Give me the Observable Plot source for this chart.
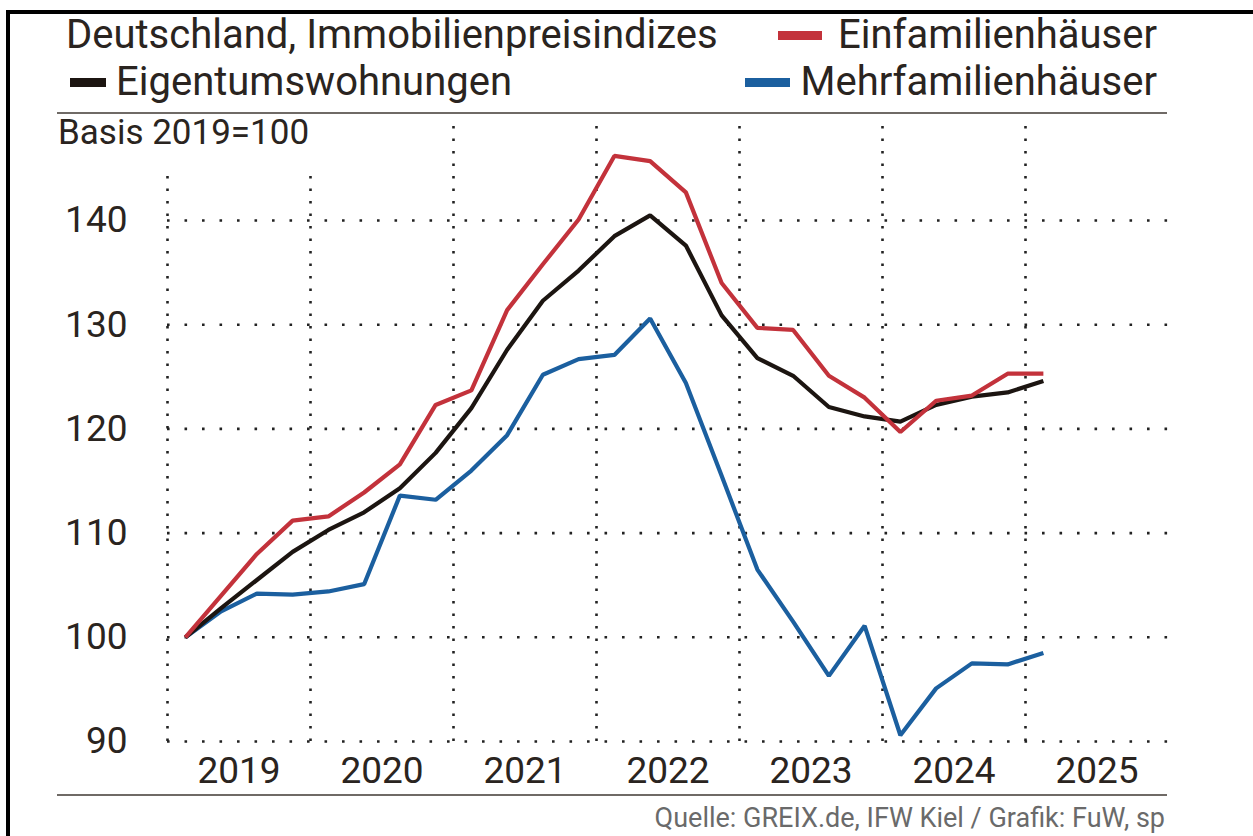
<!DOCTYPE html>
<html>
<head>
<meta charset="utf-8">
<script src="https://cdn.jsdelivr.net/npm/d3@7"></script>
<script src="https://cdn.jsdelivr.net/npm/@observablehq/plot@0.6"></script>
<style>
  html, body { margin: 0; padding: 0; background: #fff; }
  #wrap { position: relative; width: 1253px; height: 836px; background: #fff; overflow: hidden; font-family: Roboto, "Noto Sans", sans-serif; color: #2a2420; }
  .abs { position: absolute; white-space: nowrap; }
  .big { font-size: 40px; line-height: 44px; }
  .sw { position: absolute; height: 9px; }
  #chart { position: absolute; left: 0; top: 100px; }
</style>
</head>
<body>
<div id="wrap">
  <div class="abs" style="left:6px;top:10px;width:1247px;height:4px;background:#000"></div>
  <div class="abs" style="left:6px;top:10px;width:4px;height:826px;background:#000"></div>

  <div class="abs big" id="title" style="left:66px;top:13px">Deutschland, Immobilienpreisindizes</div>

  <div class="sw" id="sw0" style="left:778px;top:31px;width:44px"></div>
  <div class="abs big" id="lg0" style="right:96px;top:13px"></div>
  <div class="sw" id="sw1" style="left:70px;top:78px;width:36px"></div>
  <div class="abs big" id="lg1" style="left:116px;top:60px"></div>
  <div class="sw" id="sw2" style="left:745px;top:78px;width:45px"></div>
  <div class="abs big" id="lg2" style="right:96px;top:60px"></div>

  <div class="abs" style="left:57px;top:112px;width:1110px;height:2px;background:#6f6a66"></div>
  <div class="abs" style="left:58px;top:113px;font-size:35px;line-height:40px">Basis 2019=100</div>

  <div id="chart"></div>

  <div class="abs" style="left:57px;top:794px;width:1110px;height:2px;background:#6f6a66"></div>
  <div class="abs" style="right:88px;top:802px;font-size:27px;line-height:32px;color:#6a6a6a">Quelle: GREIX.de, IFW Kiel / Grafik: FuW, sp</div>
</div>
<script>
// ---- data ----
const quarters = [
  "2019 Q1","2019 Q2","2019 Q3","2019 Q4",
  "2020 Q1","2020 Q2","2020 Q3","2020 Q4",
  "2021 Q1","2021 Q2","2021 Q3","2021 Q4",
  "2022 Q1","2022 Q2","2022 Q3","2022 Q4",
  "2023 Q1","2023 Q2","2023 Q3","2023 Q4",
  "2024 Q1","2024 Q2","2024 Q3","2024 Q4",
  "2025 Q1"
];
const seriesNames = ["Einfamilienhäuser", "Eigentumswohnungen", "Mehrfamilienhäuser"];
const seriesColors = ["#c3323b", "#1c1511", "#1b5f9f"];
const einfamilien = [100, 104.0, 108.0, 111.2, 111.6, 113.9, 116.6, 122.3, 123.7, 131.4, 135.8, 140.1, 146.2, 145.7, 142.7, 134.0, 129.7, 129.5, 125.1, 123.0, 119.7, 122.7, 123.2, 125.3, 125.3];
const eigentum    = [100, 102.8, 105.5, 108.2, 110.3, 112.0, 114.3, 117.7, 122.0, 127.6, 132.3, 135.2, 138.5, 140.5, 137.6, 130.9, 126.8, 125.1, 122.1, 121.2, 120.7, 122.3, 123.1, 123.5, 124.6];
const mehrfamilien= [100, 102.5, 104.2, 104.1, 104.4, 105.1, 113.6, 113.2, 116.0, 119.4, 125.2, 126.7, 127.1, 130.6, 124.4, 115.5, 106.5, 101.5, 96.3, 101.1, 90.6, 95.1, 97.5, 97.4, 98.5];
const yearLabels = [2019, 2020, 2021, 2022, 2023, 2024, 2025];
const yTicks = [90, 100, 110, 120, 130, 140];
const basisLabelBlockedYears = [2019, 2020]; // grid lines that stop below the "Basis" label

// ---- header legend ----
["lg0","lg1","lg2"].forEach((id, i) => { document.getElementById(id).textContent = seriesNames[i]; });
["sw0","sw1","sw2"].forEach((id, i) => { document.getElementById(id).style.background = seriesColors[i]; });

// ---- build table ----
const qx = q => { const [y, qq] = q.split(" Q"); return +y + (+qq - 0.5) / 4; };
const toRows = vals => quarters.map((q, i) => ({x: qx(q), v: vals[i]}));

const yTop = 149.6;
const gridTopShort = 144.4;
const vgrid = yearLabels.map(y => ({x: y, top: basisLabelBlockedYears.includes(y) ? gridTopShort : yTop}));

const chart = Plot.plot({
  width: 1253,
  height: 700,
  marginTop: 20,
  marginBottom: 59,
  marginLeft: 167,
  marginRight: 85,
  x: {domain: [2019, 2026], axis: null},
  y: {domain: [90, yTop], axis: null},
  style: {fontFamily: "Roboto, sans-serif", color: "#2a2420", background: "transparent"},
  marks: [
    Plot.ruleY(yTicks, {x1: 2019, x2: 2026, stroke: "#222", strokeWidth: 2.6, strokeDasharray: "2.6 14.9", strokeOpacity: 1}),
    Plot.ruleX(vgrid, {x: "x", y1: 90, y2: "top", stroke: "#222", strokeWidth: 2.6, strokeDasharray: "2.6 9.9"}),
    Plot.text(yTicks, {x: 2019, y: d => d, text: d => String(d), textAnchor: "end", dx: -40, fontSize: 37, fill: "#2a2420"}),
    Plot.text(yearLabels, {x: d => d + 0.5, y: 90, text: d => String(d), dy: 30, fontSize: 37, fill: "#2a2420"}),
    Plot.line(toRows(mehrfamilien), {x: "x", y: "v", stroke: seriesColors[2], strokeWidth: 4.2, strokeLinejoin: "miter", strokeLinecap: "butt"}),
    Plot.line(toRows(eigentum), {x: "x", y: "v", stroke: seriesColors[1], strokeWidth: 4.2, strokeLinejoin: "miter", strokeLinecap: "butt"}),
    Plot.line(toRows(einfamilien), {x: "x", y: "v", stroke: seriesColors[0], strokeWidth: 4.2, strokeLinejoin: "miter", strokeLinecap: "butt"})
  ]
});
document.getElementById("chart").appendChild(chart);
</script>
</body>
</html>
